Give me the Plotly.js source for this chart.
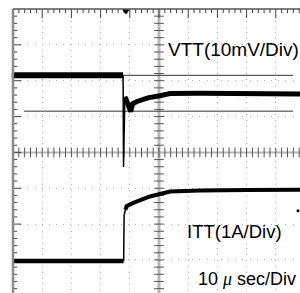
<!DOCTYPE html>
<html><head><meta charset="utf-8">
<script src="https://cdn.plot.ly/plotly-3.0.1.min.js"></script>
<style>html,body{margin:0;padding:0;background:#fff;overflow:hidden}#chart{width:300px;height:293px}</style>
</head><body><div id="chart"></div>
<script>
// Data: time in microseconds (10 us/div), VTT deviation in mV (10 mV/div), ITT in A (1 A/div)
const vttBeforeTime = [0, 12, 25, 37.7];
const vttBeforeMv   = [0, 0, 0, 0];
const vttSpikeTime  = [37.7, 37.85, 38.3];
const vttSpikeMv    = [0, -25.6, -6.0];
const vttAfterTime  = [38.3, 38.7, 40.3, 41.0, 42.5, 46.2, 50.3, 53.8, 64.0, 80.0, 98.3];
const vttAfterMv    = [-6.0, -6.6, -10.1, -7.9, -7.3, -6.3, -5.7, -5.1, -5.0, -5.1, -5.2];
const ittBeforeTime = [0, 12, 25, 37.9];
const ittBeforeA    = [-1.08, -1.08, -1.08, -1.08];
const ittRiseTime   = [37.9, 38.05, 38.5];
const ittRiseA      = [-1.08, 0.2, 0.35];
const ittAfterTime  = [38.5, 38.9, 41.2, 46.9, 53.8, 58.2, 64.0, 80.0, 98.3];
const ittAfterA     = [0.35, 0.45, 0.54, 0.72, 0.86, 0.88, 0.89, 0.90, 0.91];
const cursorMv      = [0, -10];
const cursorStart   = [37.8, 3.8];
const cursorEnd     = [95.9, 95.9];
const triggerTime   = 38.7;
const triggerLevelA = 0.32;
const labelTexts    = ["VTT(10mV/Div)", "ITT(1A/Div)", "10 <i><span style=\"font-family:Liberation Serif\">μ</span></i> sec/Div"];

// Scope settings
const usPerDiv = 10, vttMvPerDiv = 10, ittAPerDiv = 1;
const vttOffsetDiv = 2.15, ittOffsetDiv = -1.95;
const vttDiv = v => v.map(m => m / vttMvPerDiv + vttOffsetDiv);
const ittDiv = v => v.map(a => a / ittAPerDiv + ittOffsetDiv);

// Geometry
const L = 13, T = 9, W = 287, H = 284, pxPerDivX = 29.2, pxPerDivY = 35.85;
const xMax = W / pxPerDivX * usPerDiv;
const yMin = 4 - H / pxPerDivY;

const traces = [];
function line(x, y, w, c) {
  traces.push({x: x, y: y, type: 'scatter', mode: 'lines', line: {color: c || '#000', width: w}, hoverinfo: 'skip', showlegend: false});
}
function ticks(x, y, sym, size, color, width) {
  traces.push({x: x, y: y, type: 'scatter', mode: 'markers', cliponaxis: true, hoverinfo: 'skip', showlegend: false,
    marker: {symbol: sym, size: size, color: color, line: {color: color, width: width}}});
}
// tick marks (grid decoration)
const tx = [], txMaj = [], ty = [], tyMaj = [];
for (let i = 1; i < 50; i++) { const x = i * 2; if (i % 5) { tx.push(x); } else { txMaj.push(x); } }
for (let i = -19; i <= 19; i++) { const y = i * 0.2; if (i % 5) { ty.push(y); } else { tyMaj.push(y); } }
const allX = [], allY = [];
for (let i = 1; i < 50; i++) allX.push(i * 2);
for (let i = -19; i <= 19; i++) if (i !== 0) allY.push(+(i * 0.2).toFixed(2));
ticks(tx, tx.map(() => 4), 'line-ns', 6, '#444', 1);
ticks(txMaj, txMaj.map(() => 4), 'line-ns', 13, '#444', 1);
ticks(ty.map(() => 0), ty, 'line-ew', 6, '#444', 1);
ticks(tyMaj.map(() => 0), tyMaj, 'line-ew', 12, '#444', 1);
ticks(allX, allX.map(() => 0), 'line-ns', 7, '#555', 1);
ticks(allY.map(() => 5 * usPerDiv), allY, 'line-ew', 7, '#555', 1);

// cursors
for (let i = 0; i < cursorMv.length; i++) {
  line([cursorStart[i], cursorEnd[i]], vttDiv([cursorMv[i], cursorMv[i]]), 1, '#333');
}
// signals
line(vttBeforeTime, vttDiv(vttBeforeMv), 6);
line(vttSpikeTime, vttDiv(vttSpikeMv), 1.5);
line(vttAfterTime, vttDiv(vttAfterMv), 5);
line(ittBeforeTime, ittDiv(ittBeforeA), 4.5);
line(ittRiseTime, ittDiv(ittRiseA), 1.5);
line(ittAfterTime, ittDiv(ittAfterA), 4);

// markers
traces.push({x: [triggerTime], y: [4 - 2 / pxPerDivY], type: 'scatter', mode: 'markers', cliponaxis: false, showlegend: false, hoverinfo: 'skip',
  marker: {symbol: 'triangle-down', size: 7, color: '#000'}});
traces.push({x: [0], y: vttDiv([0]), type: 'scatter', mode: 'markers', cliponaxis: false, showlegend: false, hoverinfo: 'skip',
  marker: {symbol: 'triangle-right', size: 5, color: '#000'}});
traces.push({x: [-0.05], y: ittDiv([0]), type: 'scatter', mode: 'markers', cliponaxis: false, showlegend: false, hoverinfo: 'skip',
  marker: {symbol: 'line-ns', size: 8, color: '#000', line: {color: '#000', width: 2.5}}});
traces.push({x: [97.6], y: ittDiv([triggerLevelA]), type: 'scatter', mode: 'markers', cliponaxis: false, showlegend: false, hoverinfo: 'skip',
  marker: {symbol: 'circle', size: 3, color: '#000'}});

const font = {family: 'Liberation Sans, Arial, sans-serif', size: 19, color: '#000'};
const layout = {
  width: 300, height: 293,
  margin: {l: L, r: 0, t: T, b: 0, pad: 0},
  paper_bgcolor: '#fff', plot_bgcolor: '#fff',
  showlegend: false,
  xaxis: {range: [0, xMax], tick0: 0, dtick: usPerDiv, showticklabels: false, ticks: '', zeroline: false, showline: false,
    showgrid: true, gridcolor: '#b4b4b4', gridwidth: 1, griddash: '1px,4.84px', fixedrange: true},
  yaxis: {range: [yMin, 4], tick0: 0, dtick: 1, showticklabels: false, ticks: '', zeroline: false, showline: false,
    showgrid: true, gridcolor: '#b4b4b4', gridwidth: 1, griddash: '1px,6.17px', fixedrange: true},
  shapes: [
    {type: 'line', xref: 'x', yref: 'paper', x0: 5 * usPerDiv, x1: 5 * usPerDiv, y0: 0, y1: 1, line: {color: '#b8b8b8', width: 3}, layer: 'below'},
    {type: 'line', xref: 'paper', yref: 'y', x0: 0, x1: 1, y0: 0, y1: 0, line: {color: '#b8b8b8', width: 2}, layer: 'below'},
    {type: 'line', xref: 'paper', yref: 'paper', x0: 0, x1: 0, y0: 0, y1: 1, line: {color: '#8a8a8a', width: 2.5}},
    {type: 'line', xref: 'paper', yref: 'paper', x0: 0, x1: 1, y0: 1, y1: 1, line: {color: '#555', width: 1.5}}
  ],
  annotations: [
    {text: labelTexts[0], x: (167 - L) / pxPerDivX * usPerDiv, y: 2.865, xref: 'x', yref: 'y', xanchor: 'left', yanchor: 'middle', showarrow: false, font: font, borderpad: 0},
    {text: labelTexts[1], x: (186 - L) / pxPerDivX * usPerDiv, y: -2.212, xref: 'x', yref: 'y', xanchor: 'left', yanchor: 'middle', showarrow: false, font: Object.assign({}, font, {size: 18.5}), borderpad: 0},
    {text: labelTexts[2], x: (197 - L) / pxPerDivX * usPerDiv, y: -3.53, xref: 'x', yref: 'y', xanchor: 'left', yanchor: 'middle', showarrow: false, font: Object.assign({}, font, {size: 18}), borderpad: 0}
  ]
};
Plotly.newPlot('chart', traces, layout, {staticPlot: true, displayModeBar: false});
</script></body></html>
